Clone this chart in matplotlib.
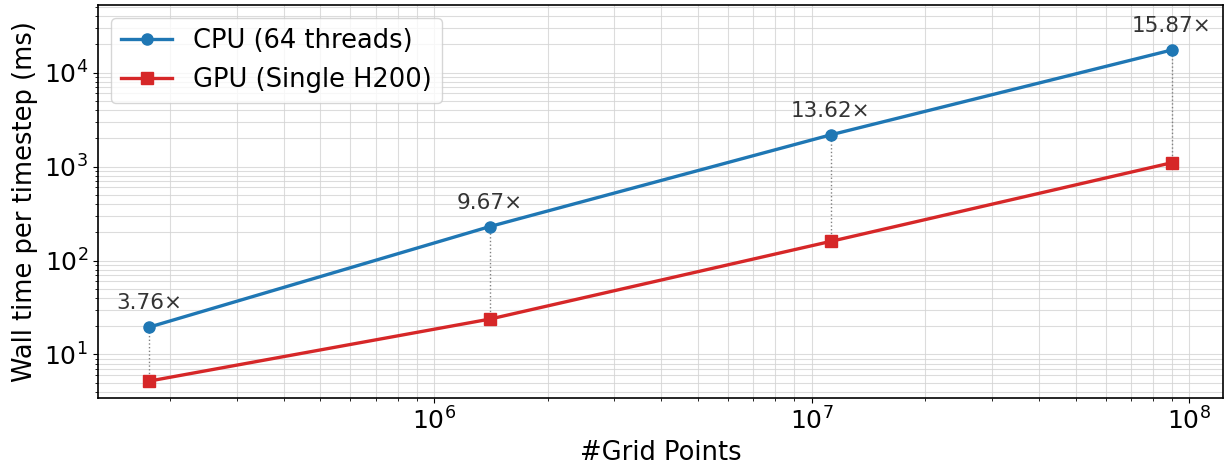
import matplotlib
matplotlib.use("Agg")
import matplotlib.pyplot as plt
import numpy as np

grid_points = [175616, 1404928, 11239424, 89915392]
cpu_ms = [19.5, 230, 2180, 17450]
gpu_ms = [5.2, 23.8, 160, 1100]
speedups = ["3.76×", "9.67×", "13.62×", "15.87×"]
cpu_label = "CPU (64 threads)"
gpu_label = "GPU (Single H200)"

fig = plt.figure(figsize=(12.28, 4.66), dpi=100)
ax = fig.add_axes([0.0796, 0.1466, 0.9164, 0.8424])

ax.plot(grid_points, cpu_ms, marker='o', color='#1f77b4', lw=2.4, markersize=8, label=cpu_label, zorder=3)
ax.plot(grid_points, gpu_ms, marker='s', color='#d62728', lw=2.4, markersize=8, label=gpu_label, zorder=3)

for x, c, g, s in zip(grid_points, cpu_ms, gpu_ms, speedups):
    ax.plot([x, x], [g, c], linestyle=':', color='gray', lw=1.0, zorder=2)
    ax.annotate(s, (x, c), xytext=(0, 10), textcoords='offset points',
                ha='center', va='bottom', fontsize=15.5, color='#333333')

ax.set_xscale('log')
ax.set_yscale('log')
ax.set_ylim(None, max(cpu_ms) * 3)
ax.grid(True, which='both', color='#d4d4d4', lw=0.8, alpha=0.8)
ax.set_axisbelow(True)
ax.set_xlabel('#Grid Points', fontsize=18.5)
ax.set_ylabel('Wall time per timestep (ms)', fontsize=18.5)
ax.tick_params(axis='both', which='major', labelsize=18)
ax.legend(loc='upper left', fontsize=18.5)
for sp in ax.spines.values():
    sp.set_linewidth(1.2)

fig.savefig('out.png', dpi=100)
